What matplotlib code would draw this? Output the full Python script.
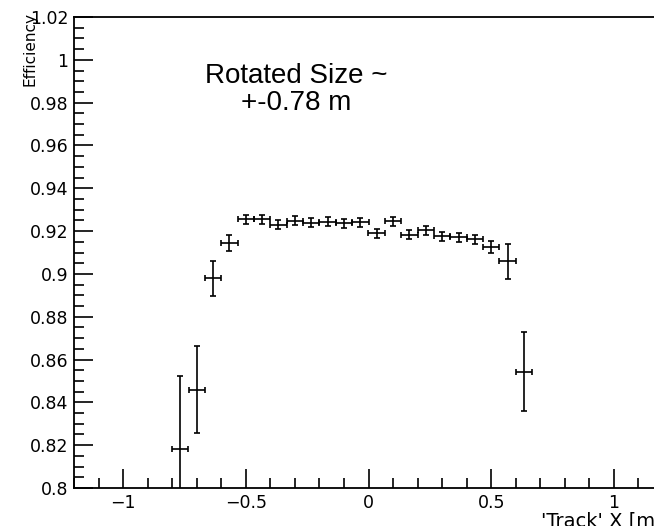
import numpy as np
import matplotlib.pyplot as plt
from matplotlib.ticker import MultipleLocator

# bin centres and efficiency values
x_centres = [-0.767, -0.700, -0.633, -0.567, -0.500, -0.433, -0.367, -0.300,
             -0.233, -0.167, -0.100, -0.033, 0.033, 0.100, 0.167, 0.233,
             0.300, 0.367, 0.433, 0.500, 0.567, 0.633]
eff = [0.818, 0.846, 0.898, 0.9146, 0.9255, 0.9256, 0.9229, 0.9249,
       0.9240, 0.9244, 0.9237, 0.9242, 0.9190, 0.9246, 0.9182, 0.9204,
       0.9175, 0.9172, 0.9162, 0.9125, 0.9058, 0.8543]
eff_err = [0.0345, 0.0205, 0.0082, 0.0037, 0.0022, 0.0021, 0.0021, 0.0021,
           0.0021, 0.0021, 0.0021, 0.0021, 0.0020, 0.0021, 0.0021, 0.0021,
           0.0021, 0.0021, 0.0022, 0.0028, 0.0083, 0.0185]
x_halfwidth = 0.0333

ytick_vals = [0.8, 0.82, 0.84, 0.86, 0.88, 0.9, 0.92, 0.94, 0.96, 0.98, 1.0, 1.02]
ytick_text = ['0.8', '0.82', '0.84', '0.86', '0.88', '0.9', '0.92',
              '0.94', '0.96', '0.98', '1', '1.02']
xtick_vals = [-1, -0.5, 0, 0.5, 1]
xtick_text = ['\u22121', '\u22120.5', '0', '0.5', '1']

plt.rcParams['font.family'] = ['DejaVu Sans']

fig = plt.figure(figsize=(6.54, 5.26), dpi=100)
# frame runs a little past the right edge, like the cropped original
ax = fig.add_axes([74/654, 1-488/526, 589/654, 471/526])

ax.errorbar(x_centres, eff, yerr=eff_err, xerr=x_halfwidth, fmt='none',
            ecolor='black', elinewidth=1.2, capsize=2.5, capthick=1.2)

ax.set_xlim(-1.2, 1.2)
ax.set_ylim(0.8, 1.02)
ax.xaxis.set_minor_locator(MultipleLocator(0.1))
ax.yaxis.set_minor_locator(MultipleLocator(0.005))
ax.set_yticks(ytick_vals)
ax.set_yticklabels(ytick_text)
ax.set_xticks(xtick_vals)
ax.set_xticklabels(xtick_text)
ax.tick_params(which='both', direction='in', top=False, right=False,
               width=1.2, labelsize=12.5)
ax.tick_params(which='major', length=14, pad=4)
ax.tick_params(which='minor', length=7)
for s in ax.spines.values():
    s.set_linewidth(1.3)

# y title sits in the top-left corner, overlapping the 1.02 label
fig.text(38/654, 1-12/526, 'Efficiency', rotation=90, ha='right', va='top',
         fontsize=11)
ax.set_xlabel("'Track' X [m]", fontsize=14, loc='right', labelpad=0)

ax.text(0.378, 0.902, 'Rotated Size ~\n+-0.78 m', transform=ax.transAxes,
        ha='center', va='top', fontsize=20, linespacing=1.05,
        family='Liberation Sans')

fig.savefig('out.png', dpi=100)
